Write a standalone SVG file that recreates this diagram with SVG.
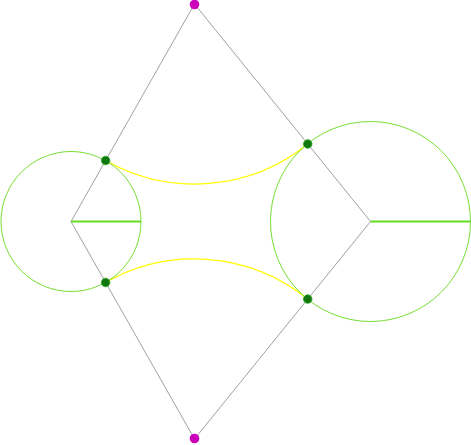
<svg xmlns="http://www.w3.org/2000/svg" width="471" height="445" viewBox="0 0 471 445">
<style>
.edge{stroke:#888888;stroke-width:0.8;fill:none}
.circ{stroke:#77dd33;stroke-width:1;fill:none}
.rad{stroke:#66dd22;stroke-width:2.2;fill:none}
.arc{stroke:#ffff00;stroke-width:1.2;fill:none}
.dot{fill:#117711;stroke:#33aa22;stroke-width:0.8}
.mag{fill:#cc00bb}
</style>
<rect width="471" height="445" fill="#ffffff"/>
<g id="connectors">
<path class="edge" d="M194.5 4 L71 221.5 L194.5 439 L370.5 221.5 Z"/>
<path class="arc" d="M105.62 160.53 A180 180 0 0 0 307.73 143.93"/>
<path class="arc" d="M105.62 282.47 A180 180 0 0 1 307.73 299.07"/>
</g>
<g id="circle-left">
<circle class="circ" cx="71" cy="221.5" r="70"/>
<line class="rad" x1="71" y1="221.5" x2="141" y2="221.5"/>
</g>
<g id="circle-right">
<circle class="circ" cx="370.5" cy="221.5" r="100"/>
<line class="rad" x1="370.5" y1="221.5" x2="470.5" y2="221.5"/>
</g>
<g id="point-top"><circle class="mag" cx="194.5" cy="4.5" r="4.8"/></g>
<g id="point-bottom"><circle class="mag" cx="194.5" cy="438.5" r="4.8"/></g>
<g id="point-tl"><circle class="dot" cx="105.62" cy="160.53" r="4.3"/></g>
<g id="point-tr"><circle class="dot" cx="307.73" cy="143.93" r="4.3"/></g>
<g id="point-bl"><circle class="dot" cx="105.62" cy="282.47" r="4.3"/></g>
<g id="point-br"><circle class="dot" cx="307.73" cy="299.07" r="4.3"/></g>
</svg>
